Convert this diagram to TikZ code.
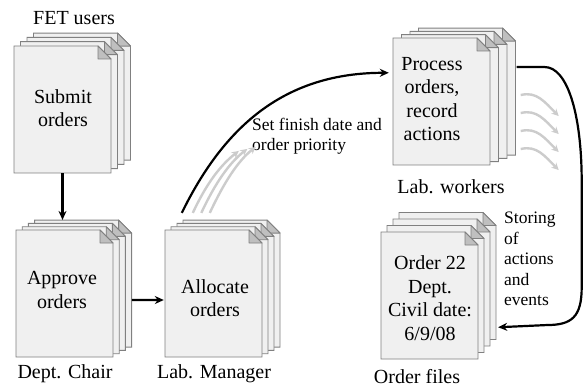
\documentclass[tikz,border=0pt]{standalone}
\usepackage{fontspec}
\setmainfont{Liberation Serif}
\usetikzlibrary{arrows.meta}
\tikzset{
  pagefill/.style={fill=black!6, draw=black!50, line width=0.9pt},
  foldfill/.style={fill=black!25, draw=black!50, line width=0.9pt, line join=round},
  pagebox/.style={rectangle, inner sep=0pt, minimum width=97pt, minimum height=127pt},
  stackbox/.style={rectangle, inner sep=0pt},
  pagetext/.style={align=center, inner sep=0pt, font=\fontsize{20}{23.5}\selectfont},
  headtext/.style={inner sep=0pt, font=\fontsize{20}{23}\selectfont},
  edgetext/.style={align=left, inner sep=0pt, anchor=west, font=\fontsize{17.5}{20.5}\selectfont},
  arr/.style={line width=2.2pt, -{Stealth[length=9pt,width=8pt]}},
  greyarr/.style={line width=2.4pt, draw=black!20, -{Stealth[length=7pt,width=7pt]}},
}
\newcommand\onepage[2]{%
  \filldraw[pagefill] (#1,#2) -- ++(84,0) -- ++(13,13) -- ++(0,114) -- ++(-97,0) -- cycle;
  \filldraw[foldfill] ({#1+84},#2) -- ++(0,13) -- ++(13,0) -- cycle;}
\newcommand\docstack[5]{%
  \foreach \k in {3,2,1,0} {\onepage{#2+\k*#4}{#3-\k*#5}}
  \node[pagebox] (#1) at ({#2+48.5},{#3+63.5}) {};
  \pgfmathsetmacro\stw{97+3*#4}
  \pgfmathsetmacro\sth{127+3*#5}
  \node[stackbox, minimum width=\stw pt, minimum height=\sth pt] (#1S) at ({#2+\stw/2},{#3+127-\sth/2}) {};}
\begin{document}
\begin{tikzpicture}[x=1pt, y=-1pt]
\useasboundingbox[fill=white] (0,0) rectangle (588,387);

\docstack{submit}{14}{46}{6.5}{4.3}
\docstack{approve}{16}{230}{6.2}{3.3}
\docstack{allocate}{165}{230}{6}{3.3}
\docstack{process}{393}{38}{8.5}{3.3}
\docstack{orderfiles}{381}{232}{6}{6.5}

% texts in pages
\node[pagetext] (submitT) at (63,108) {Submit\\orders};
\node[pagetext] (approveT) at (62,290) {Approve\\orders};
\node[pagetext] (allocateT) at (215,298) {Allocate\\orders};
\node[pagetext] (processT) at (432,99) {Process\\orders,\\record\\actions};
\node[pagetext] (orderfilesT) at (430,298) {Order 22\\Dept.\\Civil date:\\6/9/08};

% headings
\node[headtext] (fet) at (74,18) {FET users};
\node[headtext] (chair) at (65,374) {Dept. Chair};
\node[headtext] (manager) at (214,374) {Lab. Manager};
\node[headtext] (workers) at (451,187) {Lab. workers};
\node[headtext] (files) at (417,377) {Order files};

% edge labels
\node[edgetext] (setlbl) at (252,136) {Set finish date and\\order priority};
\node[edgetext] (storelbl) at (504,259) {Storing\\of\\actions\\and\\events};

% grey arrows (left)
\draw[greyarr] ([xshift=28pt,yshift=7pt]allocateS.north west) .. controls +(14,-30) and +(-18,14) .. ++(46,-62);
\draw[greyarr] ([xshift=36.5pt,yshift=7pt]allocateS.north west) .. controls +(14,-30) and +(-18,14) .. ++(46,-64);
\draw[greyarr] ([xshift=45pt,yshift=7pt]allocateS.north west) .. controls +(14,-30) and +(-18,14) .. ++(46,-66);

% grey arrows (right)
\draw[greyarr] ([xshift=5pt,yshift=1.5pt]processS.east) .. controls +(16,-4) and +(-14,-14) .. ++(38,21);
\draw[greyarr] ([xshift=5pt,yshift=-16.5pt]processS.east) .. controls +(16,-4) and +(-14,-14) .. ++(38,21);
\draw[greyarr] ([xshift=5pt,yshift=-34.5pt]processS.east) .. controls +(16,-4) and +(-14,-14) .. ++(38,21);
\draw[greyarr] ([xshift=5pt,yshift=-52.5pt]processS.east) .. controls +(16,-4) and +(-14,-14) .. ++(38,21);

% black connectors
\draw[arr] (submit.south) -- (submit.south |- approveS.north);
\draw[arr] ([yshift=-11.5pt]approveS.east) -- ([xshift=-1pt,yshift=-6.5pt]allocate.west);
\draw[arr] ([xshift=17pt,yshift=7pt]allocateS.north west) .. controls +(43,-88) and +(-103,0) .. ([xshift=-4pt,yshift=-35pt]process.north west);
\draw[arr, line join=round] ([xshift=1pt,yshift=29.5pt]processS.east) -- ++(28,0)
   .. controls +(22,0) and +(0,-70) .. ++(37,115) -- ++(0,105)
   .. controls +(0,30) and +(25,0) .. ++(-35,38) -- ([xshift=2pt,yshift=-41.5pt]orderfilesS.east);
\end{tikzpicture}
\end{document}
